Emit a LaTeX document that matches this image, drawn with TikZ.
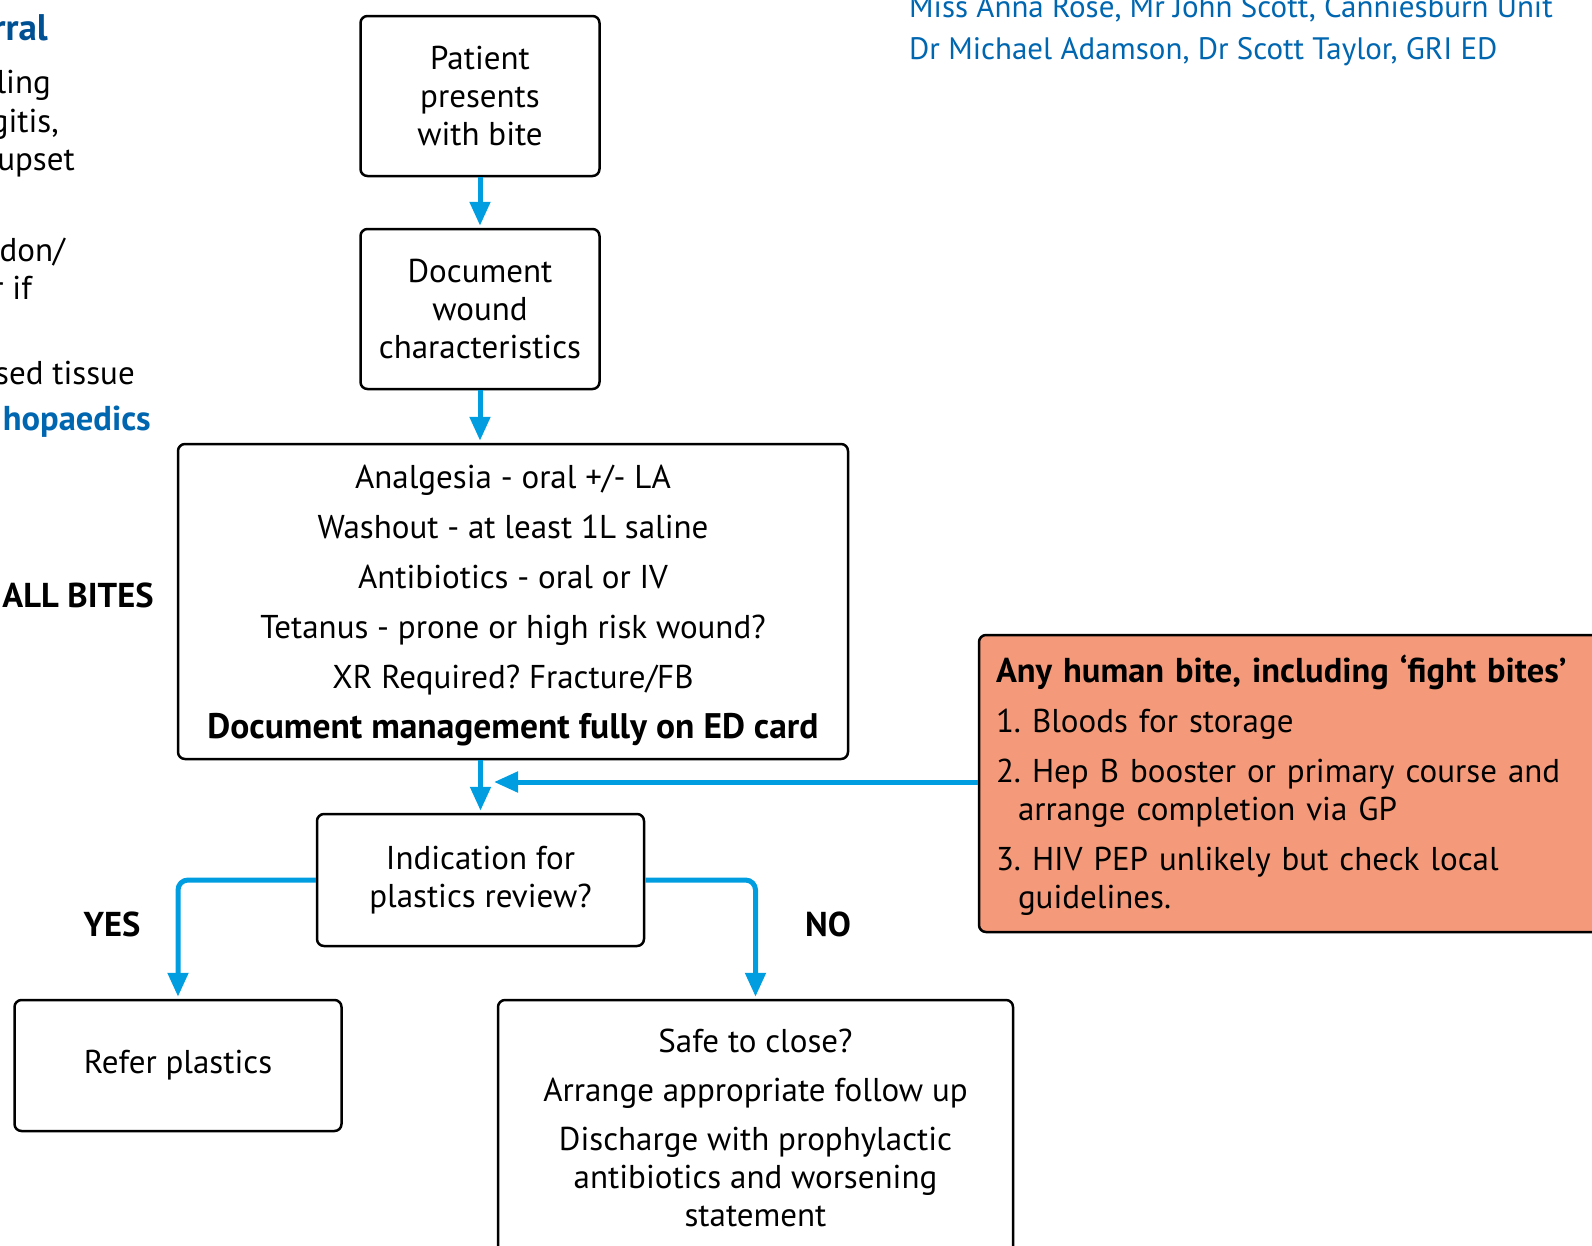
\documentclass[tikz,border=0pt]{standalone}
\usepackage{fontspec}
\setmainfont{PT Sans}
\usetikzlibrary{arrows.meta,positioning,calc}
\definecolor{flowBlue}{RGB}{0,158,224}
\definecolor{headBlue}{RGB}{0,80,148}
\definecolor{linkBlue}{RGB}{0,102,176}
\definecolor{humanOrange}{RGB}{244,154,122}
\newcommand{\bigbf}{\fontsize{34.5}{38}\selectfont\bfseries}
\frenchspacing

\begin{document}
\begin{tikzpicture}[x=1pt,y=-1pt,
    box/.style={draw, line width=2.5pt, rounded corners=7pt, align=center, inner sep=0pt, font=\fontsize{33}{38}\selectfont},
    flow/.style={draw=flowBlue, line width=5pt, rounded corners=10pt, shorten >=2pt, -{Triangle[length=24pt,width=20pt]}},
    side/.style={font=\fontsize{33}{38}\selectfont, anchor=base east, inner sep=0pt},
    tag/.style={font=\bigbf, inner sep=0pt},
  ]
  \useasboundingbox (0,0) rectangle (1592,1245);

  % cut-off text on the left
  \node[side, font=\fontsize{37}{40}\selectfont\bfseries, text=headBlue] (frag1) at (48,40) {rral};
  \node[side] (frag2) at (51,93) {ling};
  \node[side] (frag3) at (59,132) {gitis,};
  \node[side] (frag4) at (75,170) {upset};
  \node[side] (frag5) at (65,261) {don/};
  \node[side] (frag6) at (32,299) {r if};
  \node[side] (frag7) at (135,384) {sed tissue};
  \node[side, font=\bigbf, text=linkBlue] (frag8) at (151,430) {hopaedics};

  % authors, top right
  \node[font=\fontsize{31}{38}\selectfont, text=linkBlue, anchor=base west, inner sep=0pt] (auth1) at (909,17) {Miss Anna Rose, Mr John Scott, Canniesburn Unit};
  \node[font=\fontsize{31}{38}\selectfont, text=linkBlue, anchor=base west, inner sep=0pt] (auth2) at (909,59) {Dr Michael Adamson, Dr Scott Taylor, GRI ED};

  % main column
  \node[box, minimum width=239pt, minimum height=160pt] (patient) at (480,96) {Patient\\presents\\with bite};
  \node[box, minimum width=239pt, minimum height=160pt] (document) at (480,309) {Document\\wound\\characteristics};
  \node[box, minimum width=670pt, minimum height=315pt, font=\fontsize{33}{50}\selectfont] (manage) at (513,601.5)
    {\rule{0pt}{32pt}Analgesia - oral +/- LA\\Washout - at least 1L saline\\Antibiotics - oral or IV\\Tetanus - prone or high risk wound?\\XR Required? Fracture/FB\\{\fontsize{35.5}{50}\selectfont\bfseries Document management fully on ED card}};
  \node[tag] (allbites) at (78,595) {ALL BITES};

  % human bites
  \node[box, fill=humanOrange, minimum width=626pt, minimum height=297pt, text width=592pt, align=left] (human) at (1292,783.5)
    {{\bigbf\rule{0pt}{30pt}Any human bite, including ‘fight bites’}\\[12pt]
     1. Bloods for storage\\[12pt]
     2. Hep B booster or primary course and\\
     \hspace*{22pt}arrange completion via GP\\[12pt]
     3. HIV PEP unlikely but check local\\
     \hspace*{22pt}guidelines.};
  \coordinate (join) at (492,782);

  % decision
  \node[box, minimum width=327pt, minimum height=132pt] (indication) at (480.5,880) {Indication for\\plastics review?};
  \node[box, minimum width=327pt, minimum height=131pt] (refer) at (178,1065.5) {Refer plastics};
  \node[box, minimum width=515pt, minimum height=255pt] (safe) at (755.5,1127.5)
    {Safe to close?\\[11pt]Arrange appropriate follow up\\[11pt]Discharge with prophylactic\\antibiotics and worsening\\statement};
  \node[tag] (yes) at (112,924) {YES};
  \node[tag] (no) at (828,924) {NO};

  % connectors
  \draw[flow] (patient) -- (document);
  \draw[flow] (document) -- (document |- manage.north);
  \draw[flow] (manage.south -| indication.north) -- (indication.north);
  \draw[flow] (human.west |- join) -- (join);
  \draw[flow] (indication.west) -| (refer.north);
  \draw[flow] (indication.east) -| (safe.north);
\end{tikzpicture}
\end{document}
